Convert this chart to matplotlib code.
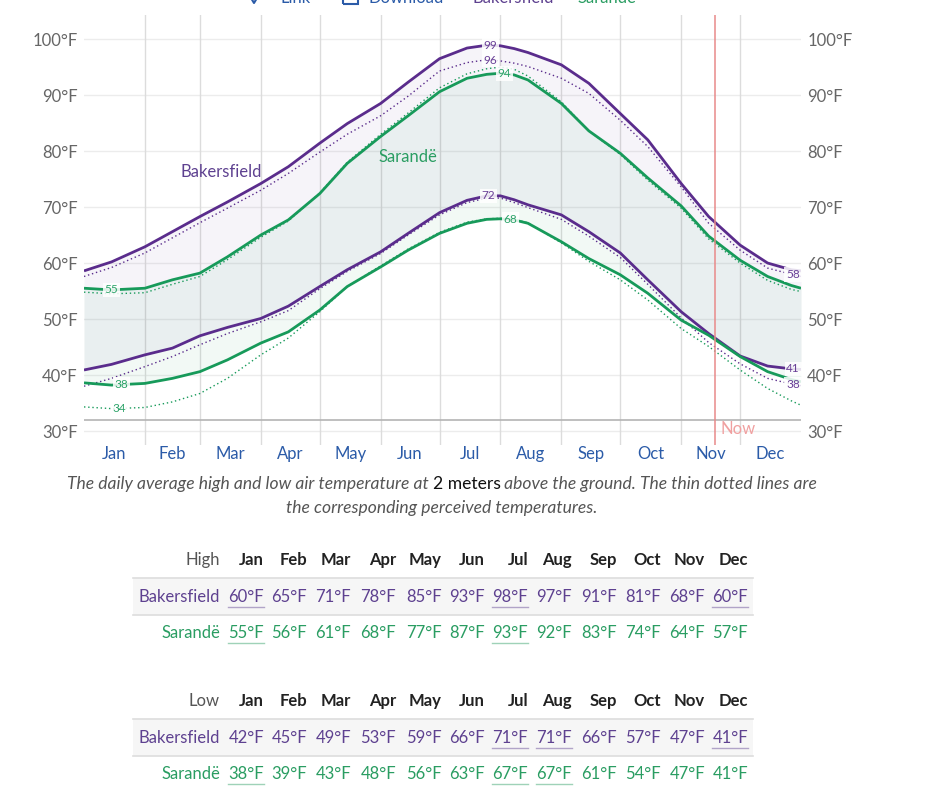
import numpy as np
import matplotlib.pyplot as plt
from matplotlib.patches import Rectangle
from matplotlib.lines import Line2D

plt.rcParams['font.family'] = ['Lato', 'DejaVu Sans']

W, H = 949, 800

# ---- daily curves (day of year -> °F) ----
days = [0, 14, 31, 45, 59, 73, 90, 104, 120, 134, 151, 165, 181, 195,
        205, 212, 219, 226, 243, 257, 273, 287, 304, 318, 334, 348, 360, 365]

bak_hi = [58.6, 60.2, 62.9, 65.6, 68.3, 70.9, 74.2, 77.2, 81.4, 84.9, 88.5, 92.3, 96.5, 98.4,
          98.9, 98.8, 98.3, 97.6, 95.4, 92.1, 86.7, 82.0, 74.2, 68.3, 63.2, 60.0, 58.8, 58.6]
bak_hi_p = [57.6, 59.2, 61.8, 64.5, 67.2, 69.8, 73.0, 76.0, 79.8, 83.0, 86.3, 89.8, 94.3, 95.8,
            96.3, 96.1, 95.7, 95.1, 93.0, 90.3, 85.5, 80.8, 73.6, 67.1, 62.3, 59.1, 58.0, 57.6]
sar_hi = [55.5, 55.2, 55.5, 57.0, 58.2, 61.1, 65.0, 67.7, 72.4, 77.8, 82.6, 86.3, 90.6, 93.0,
          93.7, 93.9, 93.6, 92.7, 88.5, 83.6, 79.6, 75.2, 70.2, 64.8, 60.5, 57.6, 56.0, 55.5]
sar_hi_p = [54.8, 54.5, 54.7, 56.2, 57.6, 60.6, 64.6, 67.5, 72.5, 78.0, 83.0, 86.8, 91.3, 93.8,
            94.7, 95.0, 94.6, 93.4, 88.8, 83.6, 79.4, 74.8, 69.8, 64.3, 60.0, 56.9, 55.3, 54.9]
bak_lo = [40.9, 41.9, 43.6, 44.8, 47.0, 48.5, 50.1, 52.3, 55.8, 58.8, 62.0, 65.3, 69.0, 71.2,
          72.0, 72.0, 71.3, 70.4, 68.6, 65.6, 61.8, 57.0, 51.3, 47.4, 43.4, 41.6, 41.1, 41.0]
bak_lo_p = [38.0, 39.4, 41.5, 43.3, 45.4, 47.4, 49.5, 51.5, 55.4, 58.5, 61.7, 65.0, 68.6, 70.8,
            71.6, 71.6, 70.8, 69.9, 67.8, 64.8, 61.0, 56.2, 50.2, 45.8, 42.0, 39.4, 38.4, 38.1]
sar_lo = [38.6, 38.2, 38.5, 39.4, 40.6, 42.7, 45.7, 47.7, 51.6, 55.8, 59.3, 62.3, 65.3, 67.1,
          67.8, 67.9, 67.7, 67.1, 63.8, 60.8, 57.9, 54.6, 49.8, 47.1, 43.3, 40.6, 39.2, 38.8]
sar_lo_p = [34.3, 34.0, 34.2, 35.2, 36.7, 39.4, 43.6, 46.6, 51.3, 55.8, 59.5, 62.5, 65.5, 67.3,
            67.9, 68.0, 67.8, 67.2, 63.6, 60.3, 57.0, 53.4, 48.3, 45.1, 40.9, 37.6, 35.4, 34.6]

months = ["Jan", "Feb", "Mar", "Apr", "May", "Jun", "Jul", "Aug", "Sep", "Oct", "Nov", "Dec"]
month_starts = [0, 31, 59, 90, 120, 151, 181, 212, 243, 273, 304, 334, 365]
now_day = 321

# labels on the curves: (series, day, text)
curve_labels = [("bak_hi", 207, "99"), ("bak_hi_p", 207, "96"), ("sar_hi", 214, "94"),
                ("bak_lo", 206, "72"), ("sar_lo", 217, "68"), ("sar_hi", 14, "55"),
                ("sar_lo", 19, "38"), ("sar_lo_p", 18, "34"), ("bak_hi_p", 361, "58"),
                ("bak_lo", 361, "41"), ("bak_lo_p", 361, "38")]

# ---- monthly table ----
tbl_bak_hi = [60, 65, 71, 78, 85, 93, 98, 97, 91, 81, 68, 60]
tbl_sar_hi = [55, 56, 61, 68, 77, 87, 93, 92, 83, 74, 64, 57]
tbl_bak_lo = [42, 45, 49, 53, 59, 66, 71, 71, 66, 57, 47, 41]
tbl_sar_lo = [38, 39, 43, 48, 56, 63, 67, 67, 61, 54, 47, 41]

PURPLE = "#5a2c8c"
GREEN = "#179a5a"
PURPLE_TXT = "#5e4190"
GREEN_TXT = "#2a9d62"

series = {"bak_hi": (bak_hi, PURPLE), "bak_hi_p": (bak_hi_p, PURPLE),
          "sar_hi": (sar_hi, GREEN), "sar_hi_p": (sar_hi_p, GREEN),
          "bak_lo": (bak_lo, PURPLE), "bak_lo_p": (bak_lo_p, PURPLE),
          "sar_lo": (sar_lo, GREEN), "sar_lo_p": (sar_lo_p, GREEN)}


def fx(x):
    return x / W


def fy(y):
    return 1 - y / H


fig = plt.figure(figsize=(W / 100, H / 100), dpi=100)
ax = fig.add_axes([fx(84), fy(445), (801 - 84) / W, (445 - 15) / H])
ax.set_xlim(0, 365)
ax.set_ylim(27.5, 104.3)
for s in ax.spines.values():
    s.set_visible(False)

# grid
for t in range(30, 101, 10):
    ax.axhline(t, color="#ececec", lw=1, zorder=0)
for d in month_starts[1:-1]:
    ax.axvline(d, color="#dcdcdc", lw=1, zorder=0)
ax.axhline(32, color="#b4b4b4", lw=1.2, zorder=1)

# bands
ax.fill_between(days, bak_lo, bak_hi, color=PURPLE, alpha=0.05, lw=0, zorder=1)
ax.fill_between(days, sar_lo, sar_hi, color=GREEN, alpha=0.055, lw=0, zorder=1)

# curves
for name, (vals, col) in series.items():
    if name.endswith("_p"):
        ax.plot(days, vals, color=col, lw=1.0, ls=(0, (1, 2)), zorder=3)
    else:
        ax.plot(days, vals, color=col, lw=2.0, zorder=4, solid_capstyle="butt")

for name, d, txt in curve_labels:
    vals, col = series[name]
    ax.text(d, np.interp(d, days, vals), txt, color=col, fontsize=8.5, ha="center",
            va="center", zorder=6, alpha=0.9,
            bbox=dict(boxstyle="square,pad=0.15", fc="white", ec="none", alpha=0.85))

ax.text(70, 76.2, "Bakersfield", color=PURPLE_TXT, fontsize=12, ha="center", va="center")
ax.text(165, 79.0, "Sarandë", color=GREEN_TXT, fontsize=12, ha="center", va="center")

# now marker
ax.axvline(now_day, color="#e88a8a", lw=1.1, zorder=5)
ax.text(now_day + 3, 30.3, "Now", color="#f0a0a0", fontsize=12, ha="left", va="center")

# ticks
ax.set_yticks(range(30, 101, 10))
ax.set_yticklabels([f"{t}°F" for t in range(30, 101, 10)])
ax.tick_params(axis="y", length=0, pad=4.5, labelsize=12, labelcolor="#666666",
               labelright=True)
mids = [(a + b) / 2 for a, b in zip(month_starts[:-1], month_starts[1:])]
ax.set_xticks(mids)
ax.set_xticklabels(months)
ax.tick_params(axis="x", length=0, pad=0.5, labelsize=12, labelcolor="#2b5ba8")

# cut-off header bar at the top (only its lower edge is visible in the page)
fig.text(fx(280), fy(3), "Link", color="#2b5ba8", fontsize=12, va="baseline")
fig.text(fx(368), fy(3), "Download", color="#2b5ba8", fontsize=12, va="baseline")
fig.text(fx(473), fy(3), "Bakersfield", color=PURPLE_TXT, fontsize=12, va="baseline")
fig.text(fx(577), fy(3), "Sarandë", color=GREEN_TXT, fontsize=12, va="baseline")
fig.add_artist(Rectangle((fx(343), fy(4)), 15 / W, 6 / H, fill=False, ec="#2b5ba8", lw=1.5))
fig.add_artist(Line2D([fx(251), fx(254), fx(257)], [fy(-2), fy(3), fy(-2)], color="#2b5ba8", lw=1.5))

# caption
cap_parts = [("The daily average high and low air temperature at ", "italic", "#555555"),
             ("2 meters", "normal", "#111111"),
             (" above the ground. The thin dotted lines are", "italic", "#555555")]
renderer = fig.canvas.get_renderer()
cap_texts = []
for txt, style, col in cap_parts:
    t = fig.text(0, fy(484), txt, fontsize=12.6, style=style, color=col, va="center", ha="left")
    cap_texts.append(t)
widths = [t.get_window_extent(renderer).width for t in cap_texts]
x0 = 442 - sum(widths) / 2
for t, w in zip(cap_texts, widths):
    t.set_x(fx(x0))
    x0 += w
fig.text(fx(442), fy(508), "the corresponding perceived temperatures.", fontsize=12.6,
         style="italic", color="#555555", ha="center", va="center")

# tables
col_right = [264, 307, 351, 396, 442, 485, 528, 572, 617, 661, 705, 748]


def draw_table(y_head, title, bak_vals, sar_vals):
    y_band0, y_band1 = y_head + 18, y_head + 55
    fig.add_artist(Rectangle((fx(133), fy(y_band1)), (753 - 133) / W, (y_band1 - y_band0) / H,
                             fc="#f6f6f6", ec="none"))
    for yy in (y_band0, y_band1):
        fig.add_artist(Line2D([fx(133), fx(753)], [fy(yy), fy(yy)], color="#dddddd", lw=1.2))
    fig.text(fx(220), fy(y_head), title, ha="right", va="center", fontsize=12, color="#555555")
    for xr, m in zip(col_right, months):
        fig.text(fx(xr), fy(y_head), m, ha="right", va="center", fontsize=12,
                 fontweight="bold", color="#222222")
    rows = [(bak_vals, "Bakersfield", PURPLE_TXT, y_head + 37),
            (sar_vals, "Sarandë", GREEN_TXT, y_head + 73)]
    for vals, name, col, yr in rows:
        fig.text(fx(220), fy(yr), name, ha="right", va="center", fontsize=12, color=col)
        lo, hi = min(vals), max(vals)
        for xr, v in zip(col_right, vals):
            t = fig.text(fx(xr), fy(yr), f"{v}°F", ha="right", va="center", fontsize=12, color=col)
            if v == lo or v == hi:
                bb = t.get_window_extent(renderer)
                fig.add_artist(Line2D([fx(bb.x0), fx(bb.x1)], [fy(yr + 10), fy(yr + 10)],
                                      color=col, lw=1, alpha=0.45))


draw_table(560, "High", tbl_bak_hi, tbl_sar_hi)
draw_table(701, "Low", tbl_bak_lo, tbl_sar_lo)

fig.savefig("out.png", dpi=100, facecolor="white")
